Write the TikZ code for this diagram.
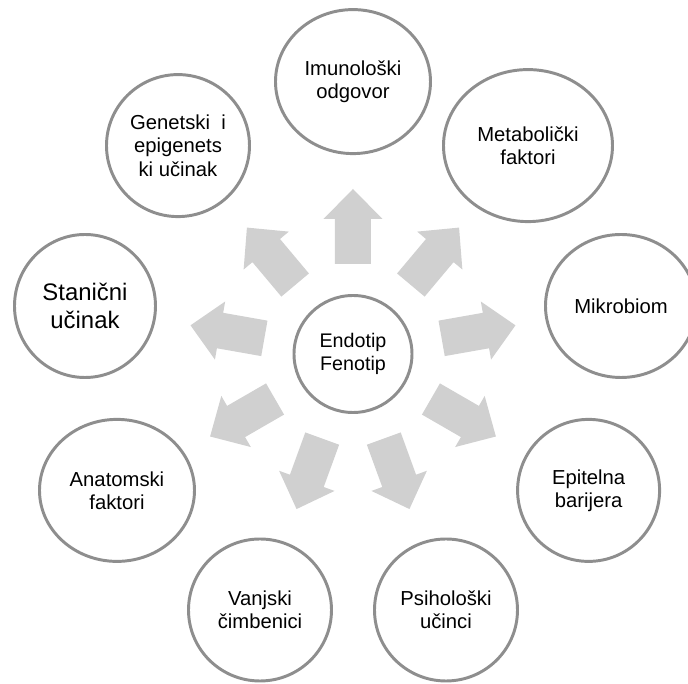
\documentclass[tikz,border=0pt]{standalone}
\usepackage{fontspec}
\setmainfont{Liberation Sans}
\usepackage{tikz}
\usetikzlibrary{shapes.geometric, positioning}
\definecolor{ringgray}{HTML}{8E8E8E}
\definecolor{arrowgray}{HTML}{D0D0D0}

\begin{document}
\begin{tikzpicture}[
    bubble/.style={draw=ringgray, line width=2.1pt, ellipse, fill=white, align=center, inner sep=0pt, font=\fontsize{14.4}{16.5}\selectfont},
    fatarrow/.style={fill=arrowgray}
]
    \useasboundingbox (-8.825,-8.25) rectangle (8.375,8.85);
    % middle
    \node[bubble, minimum width=2.95cm, minimum height=2.925cm, font=\fontsize{14}{16.2}\selectfont] at (0,0) (hub) {Endotip\\Fenotip};
    % block arrows, one every 40 degrees
    \foreach \a in {90,50,10,-30,-70,-110,-150,170,130}
        \fill[fatarrow, shift={(hub.center)}, rotate=\a] (2.25,-0.45) -- (3.375,-0.45) -- (3.375,-0.7375) -- (4.125,0) -- (3.375,0.7375) -- (3.375,0.45) -- (2.25,0.45) -- cycle;
    % outer ring
    \node[bubble, minimum width=3.875cm, minimum height=3.6cm] at (0,6.81) (immune) {Imunološki\\odgovor};
    \node[bubble, minimum width=4.225cm, minimum height=3.8cm] at (4.375,5.21) (metab) {Metabolički\\faktori};
    \node[bubble, minimum width=3.775cm, minimum height=3.575cm] at (6.7,1.2) (microb) {Mikrobiom};
    \node[bubble, minimum width=3.55cm, minimum height=3.55cm] at (5.89,-3.41) (epith) {Epitelna\\barijera};
    \node[bubble, minimum width=3.575cm, minimum height=3.55cm] at (2.325,-6.4) (psych) {Psihološki\\učinci};
    \node[bubble, minimum width=3.575cm, minimum height=3.55cm] at (-2.325,-6.4) (extern) {Vanjski\\čimbenici};
    \node[bubble, minimum width=3.875cm, minimum height=3.55cm] at (-5.9,-3.41) (anatom) {Anatomski\\faktori};
    \node[bubble, minimum width=3.525cm, minimum height=3.575cm, font=\fontsize{17}{20}\selectfont] at (-6.7,1.2) (cell) {Stanični\\učinak};
    \node[bubble, minimum width=3.575cm, minimum height=3.55cm] at (-4.375,5.21) (genet) {Genetski~~i\\epigenets\\ki učinak};
\end{tikzpicture}
\end{document}
